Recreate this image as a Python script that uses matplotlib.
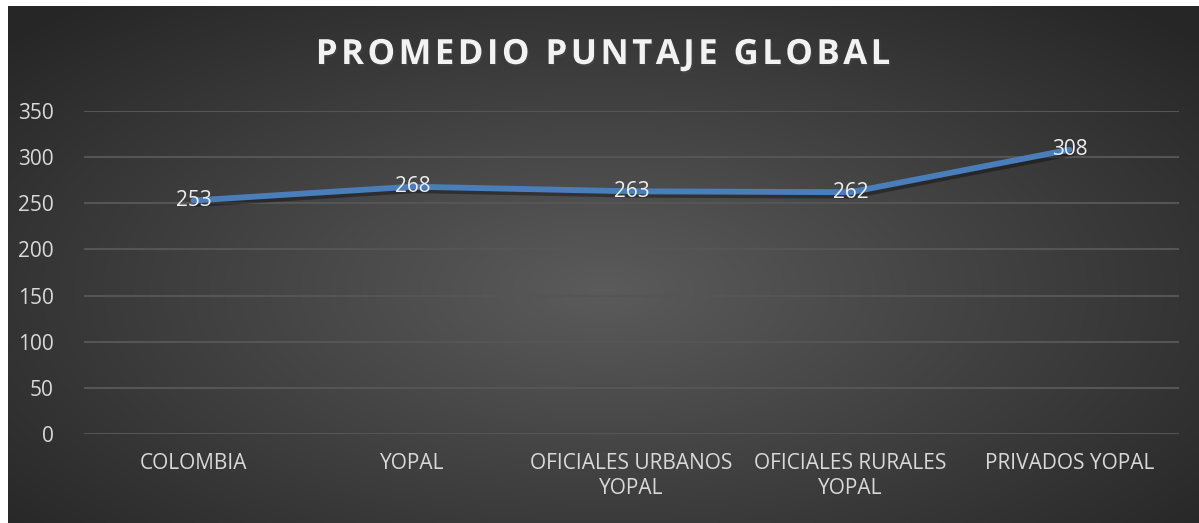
import numpy as np
import matplotlib
matplotlib.use("Agg")
import matplotlib.pyplot as plt
import matplotlib.patheffects as pe

# data
categories = ["COLOMBIA", "YOPAL", "OFICIALES URBANOS\nYOPAL", "OFICIALES RURALES\nYOPAL", "PRIVADOS YOPAL"]
puntaje = [253, 268, 263, 262, 308]
yticks = [0, 50, 100, 150, 200, 250, 300, 350]
title = "PROMEDIO PUNTAJE GLOBAL"

W, H = 1199, 523
fig = plt.figure(figsize=(W / 100, H / 100), dpi=100, facecolor="white")
plt.rcParams["font.family"] = ["Open Sans", "DejaVu Sans"]

# dark radial gradient panel
bg = fig.add_axes([8 / W, 0, (W - 8) / W, (H - 6) / H])
bg.axis("off")
gx, gy = np.meshgrid(np.linspace(-1, 1, 400), np.linspace(-1, 1, 200))
r = np.sqrt(gx ** 2 + ((gy + 0.1) / 1.1) ** 2) / 1.35
r = np.clip(r, 0, 1)
c_in, c_out = 0x5b / 255, 0x26 / 255
img = c_in + (c_out - c_in) * r
bg.imshow(np.dstack([img, img, img]), aspect="auto", extent=[0, 1, 0, 1], origin="lower")
bg.set_xlim(0, 1)
bg.set_ylim(0, 1)

# plot area
x0, x1 = 84, 1179
y0, y1 = H - 434, H - 111
ax = fig.add_axes([x0 / W, y0 / H, (x1 - x0) / W, (y1 - y0) / H])
ax.patch.set_alpha(0)
ax.set_xlim(-0.5, len(categories) - 0.5)
ax.set_ylim(0, 350)
ax.set_yticks(yticks)
ax.set_xticks(range(len(categories)))
ax.set_xticklabels(categories, linespacing=1.25)
for s in ax.spines.values():
    s.set_visible(False)
ax.tick_params(length=0, colors="#d9d9d9", labelsize=15)
ax.tick_params(axis="y", pad=22)
ax.tick_params(axis="x", pad=14)
ax.grid(axis="y", color="#555555", linewidth=1.5)
ax.set_axisbelow(True)

ax.plot(range(len(puntaje)), puntaje, color="#4a7ebb", linewidth=4.2,
        solid_capstyle="round", solid_joinstyle="round", zorder=3,
        path_effects=[pe.SimpleLineShadow(offset=(1.5, -2.5), alpha=0.35), pe.Normal()])

for xi, v in enumerate(puntaje):
    ax.text(xi, v, str(v), ha="center", va="center", color="#eeeeee", fontsize=15, zorder=4)

fig.text((8 + W) / 2 / W, 1 - 55 / H, "\u200a".join(title), ha="center", va="center",
         color="#f2f2f2", fontsize=25, fontweight="bold",
         path_effects=[pe.withSimplePatchShadow(offset=(1, -1.5), alpha=0.5)])

fig.savefig("out.png", dpi=100, facecolor="white")
